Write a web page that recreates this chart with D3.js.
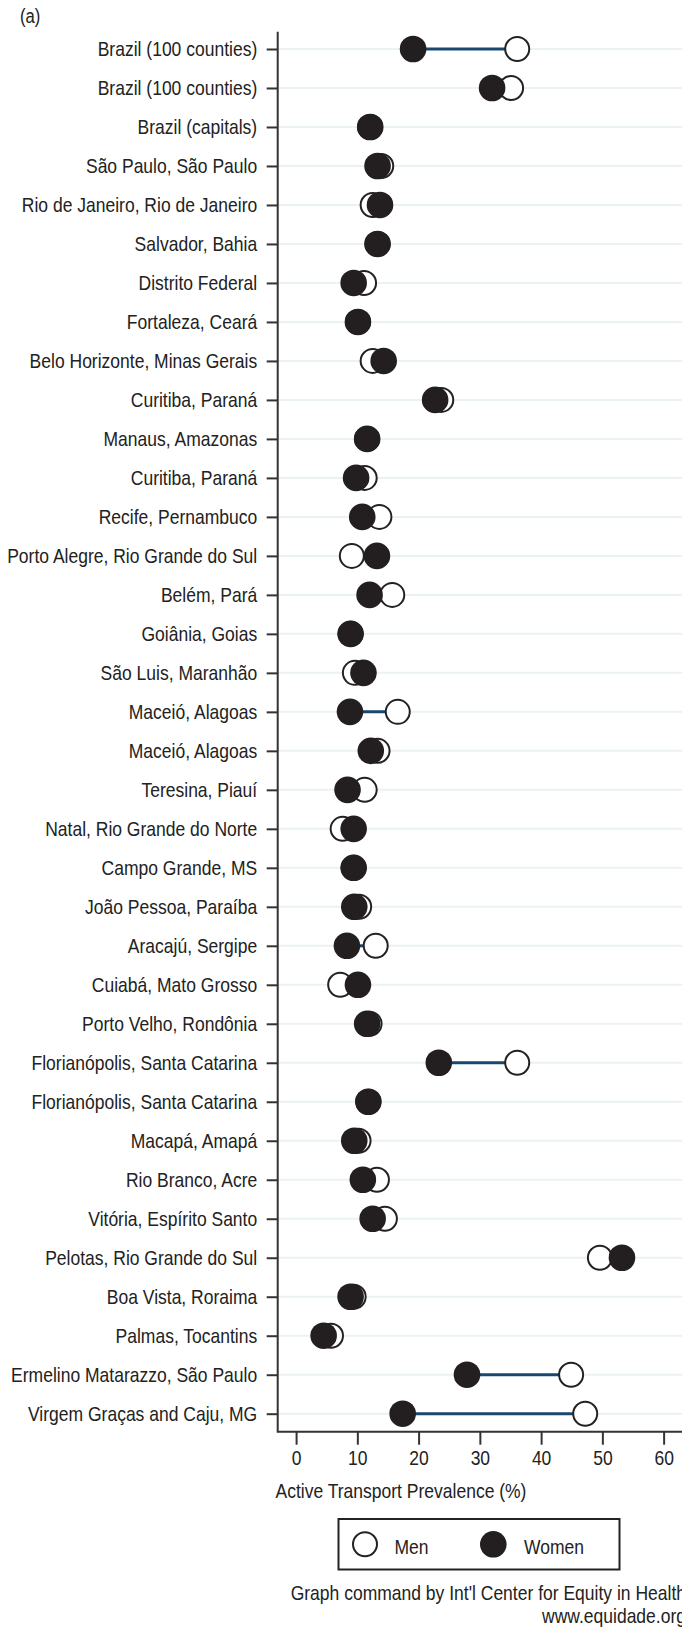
<!DOCTYPE html>
<html>
<head>
<meta charset="utf-8">
<script src="https://cdn.jsdelivr.net/npm/d3@7"></script>
<style>
  body { margin: 0; background: #fff; }
  svg { display: block; }
  text { font-family: "Liberation Sans", Arial, sans-serif; fill: #222; }
</style>
</head>
<body>
<svg width="682" height="1629"></svg>
<script>
let WIDTH  = 682,
    HEIGHT = 1629,
    FONT   = 21;

let places = [
    "Brazil (100 counties)", "Brazil (100 counties)", "Brazil (capitals)",
    "São Paulo, São Paulo", "Rio de Janeiro, Rio de Janeiro", "Salvador, Bahia",
    "Distrito Federal", "Fortaleza, Ceará", "Belo Horizonte, Minas Gerais",
    "Curitiba, Paraná", "Manaus, Amazonas", "Curitiba, Paraná",
    "Recife, Pernambuco", "Porto Alegre, Rio Grande do Sul", "Belém, Pará",
    "Goiânia, Goias", "São Luis, Maranhão", "Maceió, Alagoas",
    "Maceió, Alagoas", "Teresina, Piauí", "Natal, Rio Grande do Norte",
    "Campo Grande, MS", "João Pessoa, Paraíba", "Aracajú, Sergipe",
    "Cuiabá, Mato Grosso", "Porto Velho, Rondônia", "Florianópolis, Santa Catarina",
    "Florianópolis, Santa Catarina", "Macapá, Amapá", "Rio Branco, Acre",
    "Vitória, Espírito Santo", "Pelotas, Rio Grande do Sul", "Boa Vista, Roraima",
    "Palmas, Tocantins", "Ermelino Matarazzo, São Paulo", "Virgem Graças and Caju, MG"
];

let men = [36.1, 35.1, 12.1, 13.9, 12.5, 13.3, 11.1, 10.1, 12.5, 23.7, 11.6, 11.2,
           13.6, 9.1, 15.7, 8.9, 9.6, 16.6, 13.3, 11.2, 7.6, 9.4, 10.3, 13.0,
           7.2, 12.0, 36.1, 11.8, 10.2, 13.2, 14.5, 49.6, 9.4, 5.7, 44.9, 47.2];

let women = [19.1, 32.0, 12.1, 13.3, 13.7, 13.3, 9.4, 10.1, 14.3, 22.7, 11.6, 9.8,
             10.8, 13.2, 12.0, 8.9, 11.0, 8.8, 12.2, 8.4, 9.4, 9.4, 9.5, 8.3,
             10.1, 11.6, 23.3, 11.8, 9.5, 10.9, 12.5, 53.2, 8.9, 4.5, 27.9, 17.4];

let xTicks = [0, 10, 20, 30, 40, 50, 60];

let series = ["Men", "Women"];

let rows = places.map(function (p, i) {
    return {i: i, place: p, men: men[i], women: women[i]};
});

let svg = d3.select("svg").attr("width", WIDTH).attr("height", HEIGHT);

let AX_LEFT = 277.7, AX_BOTTOM = 1431.7, AX_TOP = 31.7;

let x = d3.scaleLinear().domain([-3, 63]).range([AX_LEFT, WIDTH]);
let y = d3.scalePoint().domain(d3.range(places.length)).range([49, 1413.7]);

// panel label
svg.append("text").attr("x", 20).attr("y", 23).style("font-size", "20px").text("(a)");

// light grid lines
svg.append("g").selectAll("line")
   .data(rows).enter().append("line")
   .attr("x1", AX_LEFT).attr("x2", WIDTH)
   .attr("y1", d => y(d.i)).attr("y2", d => y(d.i))
   .attr("stroke", "#eaf2f3").attr("stroke-width", 2);

// y axis
let yAxis = svg.append("g")
   .attr("transform", "translate(" + AX_LEFT + ",0)")
   .call(d3.axisLeft(y).tickFormat(i => places[i]).tickSize(11).tickPadding(9.5));
yAxis.select(".domain").remove();
yAxis.selectAll(".tick line").attr("stroke", "#333").attr("stroke-width", 2);
yAxis.selectAll(".tick text").style("font-size", FONT + "px").attr("fill", "#222");

// x axis
let xAxis = svg.append("g")
   .attr("transform", "translate(0," + AX_BOTTOM + ")")
   .call(d3.axisBottom(x).tickValues(xTicks).tickSize(13).tickPadding(5));
xAxis.select(".domain").remove();
xAxis.selectAll(".tick line").attr("stroke", "#333").attr("stroke-width", 2);
xAxis.selectAll(".tick text").style("font-size", FONT + "px").attr("fill", "#222");

// axis lines
svg.append("path")
   .attr("d", "M" + AX_LEFT + "," + AX_TOP + "V" + AX_BOTTOM + "H" + WIDTH)
   .attr("fill", "none").attr("stroke", "#333").attr("stroke-width", 2);

// range lines
svg.append("g").selectAll("line")
   .data(rows).enter().append("line")
   .attr("x1", d => x(d.men)).attr("x2", d => x(d.women))
   .attr("y1", d => y(d.i)).attr("y2", d => y(d.i))
   .attr("stroke", "#1a476f").attr("stroke-width", 3);

// men (hollow)
svg.append("g").selectAll("circle")
   .data(rows).enter().append("circle")
   .attr("cx", d => x(d.men)).attr("cy", d => y(d.i)).attr("r", 12)
   .attr("fill", "#fff").attr("stroke", "#222").attr("stroke-width", 2);

// women (filled)
svg.append("g").selectAll("circle")
   .data(rows).enter().append("circle")
   .attr("cx", d => x(d.women)).attr("cy", d => y(d.i)).attr("r", 13.3)
   .attr("fill", "#231f20");

// x title
svg.append("text")
   .attr("x", 401).attr("y", 1498)
   .attr("text-anchor", "middle")
   .style("font-size", FONT + "px")
   .text("Active Transport Prevalence (%)");

// legend
let lg = svg.append("g");
lg.append("rect").attr("x", 338.5).attr("y", 1519).attr("width", 281).attr("height", 50.5)
  .attr("fill", "#fff").attr("stroke", "#222").attr("stroke-width", 2);
let leg = lg.selectAll("g.item").data(series).enter().append("g")
  .attr("class", "item")
  .attr("transform", (d, i) => "translate(" + [365, 493.3][i] + ",1544.3)");
leg.append("circle").attr("r", d => d === "Men" ? 12 : 13.3)
   .attr("fill", d => d === "Men" ? "#fff" : "#231f20")
   .attr("stroke", d => d === "Men" ? "#222" : "none")
   .attr("stroke-width", 2);
leg.append("text").attr("x", d => d === "Men" ? 29.5 : 30.7).attr("y", 10)
   .style("font-size", FONT + "px").text(d => d);

// caption, right aligned past the edge like the source
svg.append("text").attr("text-anchor", "end").attr("x", 686).attr("y", 1600)
   .style("font-size", FONT + "px").text("Graph command by Int'l Center for Equity in Health");
svg.append("text").attr("text-anchor", "end").attr("x", 686).attr("y", 1623)
   .style("font-size", FONT + "px").text("www.equidade.org");

// narrow the type: squeeze every text by the same ratio
let ref = yAxis.selectAll(".tick text").filter((d, i) => i === 13).node();
let squeeze = 250 / ref.getComputedTextLength();
svg.selectAll("text").each(function () {
    let w = this.getComputedTextLength();
    d3.select(this).attr("textLength", w * squeeze).attr("lengthAdjust", "spacingAndGlyphs");
});
</script>
</body>
</html>
